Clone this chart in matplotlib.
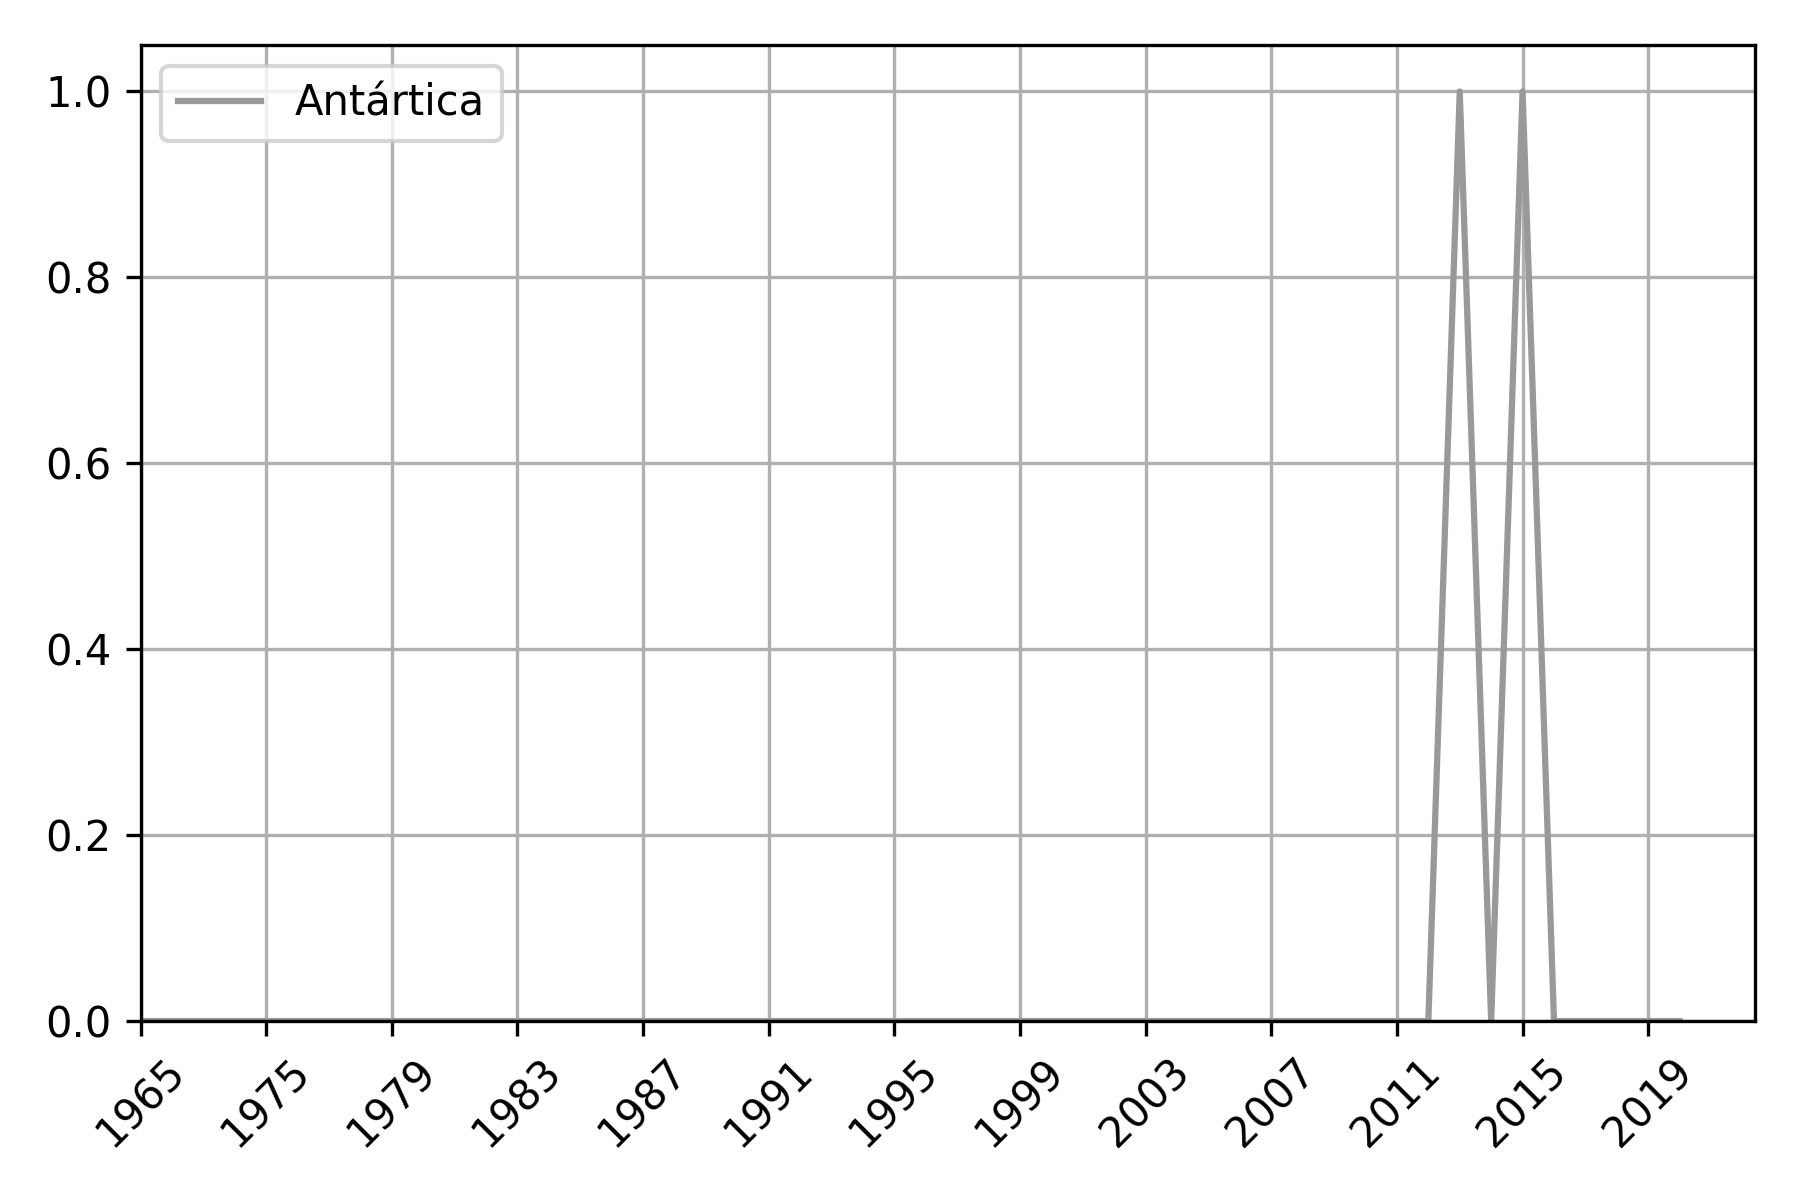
import matplotlib
matplotlib.use("Agg")
import matplotlib.pyplot as plt
import numpy as np

years = [1965, 1968, 1970, 1972] + list(range(1975, 2021))
values = [0] * len(years)
values[years.index(2013)] = 1
values[years.index(2015)] = 1
labels = [str(y) for y in years]

fig, ax = plt.subplots(figsize=(6, 4), dpi=300)
x = np.arange(len(years))
ax.plot(x, values, color="#999999", lw=1.5, label="Antártica")
ax.set_xticks(x[::4])
ax.set_xticklabels(labels[::4], rotation=45)
ax.set_xlim(0, 51.4)
ax.set_ylim(0, 1.05)
ax.grid(True, color="#b0b0b0", lw=0.8)
ax.legend(loc="upper left")
fig.tight_layout()
fig.savefig("out.png")
